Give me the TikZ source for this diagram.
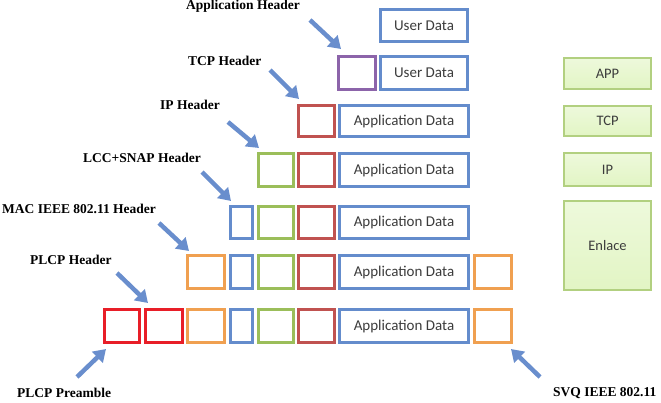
\documentclass[tikz,border=0pt]{standalone}
\usepackage{fontspec}
\setmainfont{Liberation Serif}
\newfontfamily\boxfont{Carlito}
\usetikzlibrary{arrows.meta}
\definecolor{cBlue}{RGB}{100,140,204}
\definecolor{cPurple}{RGB}{140,100,170}
\definecolor{cDred}{RGB}{192,82,80}
\definecolor{cGreen}{RGB}{155,190,90}
\definecolor{cOrange}{RGB}{240,160,80}
\definecolor{cRed}{RGB}{232,30,40}
\definecolor{cArrow}{RGB}{105,142,205}
\definecolor{cLayerFill}{RGB}{226,245,196}
\definecolor{cLayerDraw}{RGB}{178,208,128}
\definecolor{cText}{RGB}{60,60,60}
\tikzset{
  pk/.style={draw, line width=3pt, fill=white, inner sep=0pt, font=\boxfont\fontsize{15}{17}\selectfont, text=cText},
  layer/.style={draw=cLayerDraw, line width=2pt, inner sep=0pt,
    top color=cLayerFill!60!white, bottom color=cLayerFill,
    font=\boxfont\fontsize{14.5}{16}\selectfont, text=cText},
  lbl/.style={anchor=west, inner sep=0pt, font=\bfseries\fontsize{13.5}{15}\selectfont},
  bigarrow/.style={draw=cArrow, line width=4.5pt, -{Triangle[width=15pt,length=12pt]}}
}
\newcommand{\pbox}[7]{\node[pk, draw=#2, minimum width={#4-#3-3}, minimum height={#6-#5-3}] (#1) at ({(#3+#4)/2},{(#5+#6)/2}) {#7};}
\newcommand{\lbox}[6]{\node[layer, minimum width={#3-#2-2}, minimum height={#5-#4-2}] (#1) at ({(#2+#3)/2},{(#4+#5)/2}) {#6};}
\begin{document}
\begin{tikzpicture}[x=1pt,y=-1pt]
\useasboundingbox (0,0) rectangle (661,402);
% row 1
\pbox{ua}{cBlue}{379}{469}{8}{43}{User Data}
% row 2
\pbox{tp}{cPurple}{337}{377}{55}{91}{}
\pbox{tu}{cBlue}{379}{469}{55}{91}{User Data}
% row 3
\pbox{ir}{cDred}{297}{336}{104}{138}{}
\pbox{ia}{cBlue}{338}{470}{104}{138}{Application Data}
% row 4
\pbox{lg}{cGreen}{257}{295}{152}{188}{}
\pbox{lr}{cDred}{297}{336}{152}{188}{}
\pbox{la}{cBlue}{338}{470}{152}{188}{Application Data}
% row 5
\pbox{mb}{cBlue}{229}{254}{205}{240}{}
\pbox{mg}{cGreen}{257}{295}{205}{240}{}
\pbox{mr}{cDred}{297}{336}{205}{240}{}
\pbox{ma}{cBlue}{338}{470}{205}{240}{Application Data}
% row 6
\pbox{ho}{cOrange}{186}{226}{254}{290}{}
\pbox{hb}{cBlue}{229}{254}{254}{290}{}
\pbox{hg}{cGreen}{257}{295}{254}{290}{}
\pbox{hr}{cDred}{297}{336}{254}{290}{}
\pbox{ha}{cBlue}{338}{470}{254}{290}{Application Data}
\pbox{hf}{cOrange}{473}{513}{254}{290}{}
% row 7
\pbox{pr1}{cRed}{103}{141}{308}{344}{}
\pbox{pr2}{cRed}{144}{184}{308}{344}{}
\pbox{po}{cOrange}{186}{226}{308}{344}{}
\pbox{pb}{cBlue}{229}{254}{308}{344}{}
\pbox{pg}{cGreen}{257}{295}{308}{344}{}
\pbox{pr}{cDred}{297}{336}{308}{344}{}
\pbox{pa}{cBlue}{338}{470}{308}{344}{Application Data}
\pbox{pf}{cOrange}{473}{513}{308}{344}{}
% layers
\lbox{app}{563}{652}{57}{90}{APP}
\lbox{tcp}{563}{652}{105}{137}{TCP}
\lbox{ip}{563}{652}{152}{187}{IP}
\lbox{enl}{563}{652}{200}{291}{Enlace}
% labels
\node[lbl] (l1) at (186,6) {Application Header};
\node[lbl] (l2) at (188,61) {TCP Header};
\node[lbl] (l3) at (160,105) {IP Header};
\node[lbl] (l4) at (83,158) {LCC+SNAP Header};
\node[lbl] (l5) at (2,209) {MAC IEEE 802.11 Header};
\node[lbl] (l6) at (30,260) {PLCP Header};
\node[lbl] (l7) at (17,393) {PLCP Preamble};
\node[lbl] (l8) at (553,393) {SVQ IEEE 802.11};
% arrows
\coordinate (s1) at (310,20);  \coordinate (e1) at (341,49);
\coordinate (s2) at (270,70);  \coordinate (e2) at (299,99);
\coordinate (s3) at (228,122); \coordinate (e3) at (259,148);
\coordinate (s4) at (202,172); \coordinate (e4) at (231,201);
\coordinate (s5) at (159,223); \coordinate (e5) at (189,251);
\coordinate (s6) at (117,273); \coordinate (e6) at (148,303);
\coordinate (s7) at (77,377);  \coordinate (e7) at (106,349);
\coordinate (s8) at (540,377); \coordinate (e8) at (511,349);
\foreach \i in {1,...,8} \draw[bigarrow] (s\i) -- (e\i);
\end{tikzpicture}
\end{document}
